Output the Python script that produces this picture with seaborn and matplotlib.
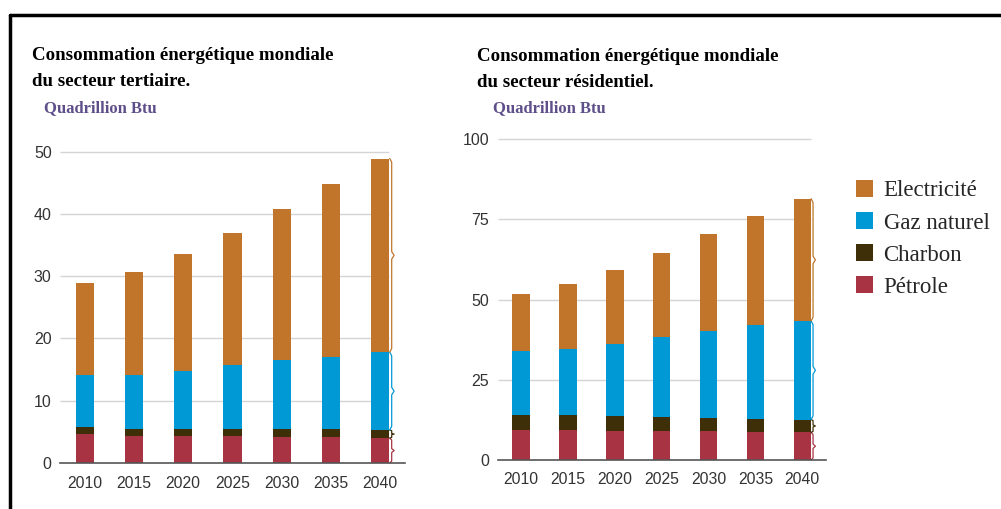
import numpy as np
import pandas as pd
import seaborn as sns
import matplotlib.pyplot as plt
from matplotlib.patches import Patch
from matplotlib.lines import Line2D

years = ["2010", "2015", "2020", "2025", "2030", "2035", "2040"]
sources = ["Electricité", "Gaz naturel", "Charbon", "Pétrole"]
colors = {"Electricité": "#C0752A", "Gaz naturel": "#0099D6",
          "Charbon": "#3E2F08", "Pétrole": "#A83342"}

# secteur tertiaire (quadrillion Btu)
tert_petrole = [4.6, 4.3, 4.3, 4.3, 4.1, 4.1, 4.0]
tert_charbon = [1.2, 1.15, 1.15, 1.15, 1.35, 1.35, 1.3]
tert_gaz = [8.3, 8.75, 9.35, 10.25, 11.15, 11.65, 12.5]
tert_elec = [14.8, 16.5, 18.7, 21.2, 24.2, 27.7, 31.1]

# secteur residentiel (quadrillion Btu)
res_petrole = [9.35, 9.35, 9.0, 8.9, 8.9, 8.6, 8.6]
res_charbon = [4.65, 4.65, 4.7, 4.5, 4.3, 4.2, 4.0]
res_gaz = [20.0, 20.7, 22.4, 24.9, 27.1, 29.4, 30.7]
res_elec = [17.8, 20.2, 23.2, 26.3, 30.2, 33.9, 38.1]


def brace(ax, x, bottom, top, color):
    # small hand-drawn style brace to the right of the last bar
    h = top - bottom
    e = min(h * 0.08, 0.6 * (ax.get_ylim()[1] / 50))
    mid = (bottom + top) / 2
    xs = [x, x + 0.04, x + 0.04, x + 0.09, x + 0.04, x + 0.04, x]
    ys = [bottom, bottom + e, mid - e, mid, mid + e, top - e, top]
    ax.plot(xs, ys, color=color, lw=0.9, clip_on=False)


def stacked(ax, petrole, charbon, gaz, elec, ymax, step):
    df = pd.DataFrame({"year": years, "Pétrole": petrole, "Charbon": charbon,
                       "Gaz naturel": gaz, "Electricité": elec})
    # cumulative tops, drawn from tallest to smallest so they overlap as a stack
    order = ["Pétrole", "Charbon", "Gaz naturel", "Electricité"]
    cum = df[order].cumsum(axis=1)
    for src in reversed(order):
        sns.barplot(x=df["year"], y=cum[src], color=colors[src], width=0.37,
                    saturation=1, ax=ax, linewidth=0)
    ax.set_xlim(-0.5, len(years) - 0.5)
    ax.set_ylim(0, ymax)
    last = len(years) - 1
    prev = 0
    for src in order:
        brace(ax, last + 0.19, prev, cum[src].iloc[last], colors[src])
        prev = cum[src].iloc[last]
    ticks = np.arange(0, ymax + 1, step)
    ax.set_yticks(ticks)
    ax.set_yticklabels([f"{t:g}" for t in ticks])
    ax.hlines(ticks[1:], -0.5, last + 0.185, color="#d4d4d4",
              lw=1, zorder=0, clip_on=False)
    ax.set_xlabel("")
    ax.set_ylabel("")
    for s in ["top", "right", "left"]:
        ax.spines[s].set_visible(False)
    ax.spines["bottom"].set_color("#555555")
    ax.spines["bottom"].set_linewidth(1.2)
    ax.set_xticks(np.arange(-0.5, len(years)), minor=True)
    ax.tick_params(axis="x", which="minor", length=5, color="#555555", width=1)
    ax.tick_params(axis="x", which="major", length=0, pad=9, labelsize=11.3,
                   labelcolor="#333333")
    ax.tick_params(axis="y", length=0, pad=6, labelsize=11.5, labelcolor="#333333")
    for lab in ax.get_xticklabels() + ax.get_yticklabels():
        lab.set_fontfamily("Liberation Sans")


sns.set_style("white")
plt.rcParams["font.family"] = ["Liberation Serif", "DejaVu Sans"]

W, H = 1001, 509
fig = plt.figure(figsize=(W / 100, H / 100), dpi=100)

ax1 = fig.add_axes([60 / W, 1 - 463 / H, 345 / W, (463 - 151.7) / H])
stacked(ax1, tert_petrole, tert_charbon, tert_gaz, tert_elec, 50, 10)

ax2 = fig.add_axes([497.7 / W, 1 - 460 / H, 328 / W, (460 - 139) / H])
stacked(ax2, res_petrole, res_charbon, res_gaz, res_elec, 100, 25)

title_kw = dict(fontsize=13.6, fontweight="bold", color="black", va="baseline")
unit_kw = dict(fontsize=12, fontweight="bold", color="#5E4F8A", va="baseline")
fig.text(32 / W, 1 - 60 / H, "Consommation énergétique mondiale", **title_kw)
fig.text(32 / W, 1 - 86 / H, "du secteur tertiaire.", **title_kw)
fig.text(44 / W, 1 - 112 / H, "Quadrillion Btu", **unit_kw)
fig.text(477 / W, 1 - 61 / H, "Consommation énergétique mondiale", **title_kw)
fig.text(477 / W, 1 - 87 / H, "du secteur résidentiel.", **title_kw)
fig.text(493 / W, 1 - 112 / H, "Quadrillion Btu", **unit_kw)

handles = [Patch(facecolor=colors[s], edgecolor="none") for s in sources]
fig.legend(handles, sources, loc="upper left", bbox_to_anchor=(856 / W, 1 - 180 / H),
           frameon=False, fontsize=16.5, handlelength=0.75, handleheight=0.75,
           handletextpad=0.45, labelspacing=0.47, borderaxespad=0, borderpad=0)

# frame of the original picture (left and top edges)
fig.add_artist(Line2D([10 / W, 10 / W], [0, 1 - 15 / H], color="black", lw=2.5))
fig.add_artist(Line2D([10 / W, 1], [1 - 15 / H, 1 - 15 / H], color="black", lw=2.5))

fig.savefig("out.png", dpi=100)
